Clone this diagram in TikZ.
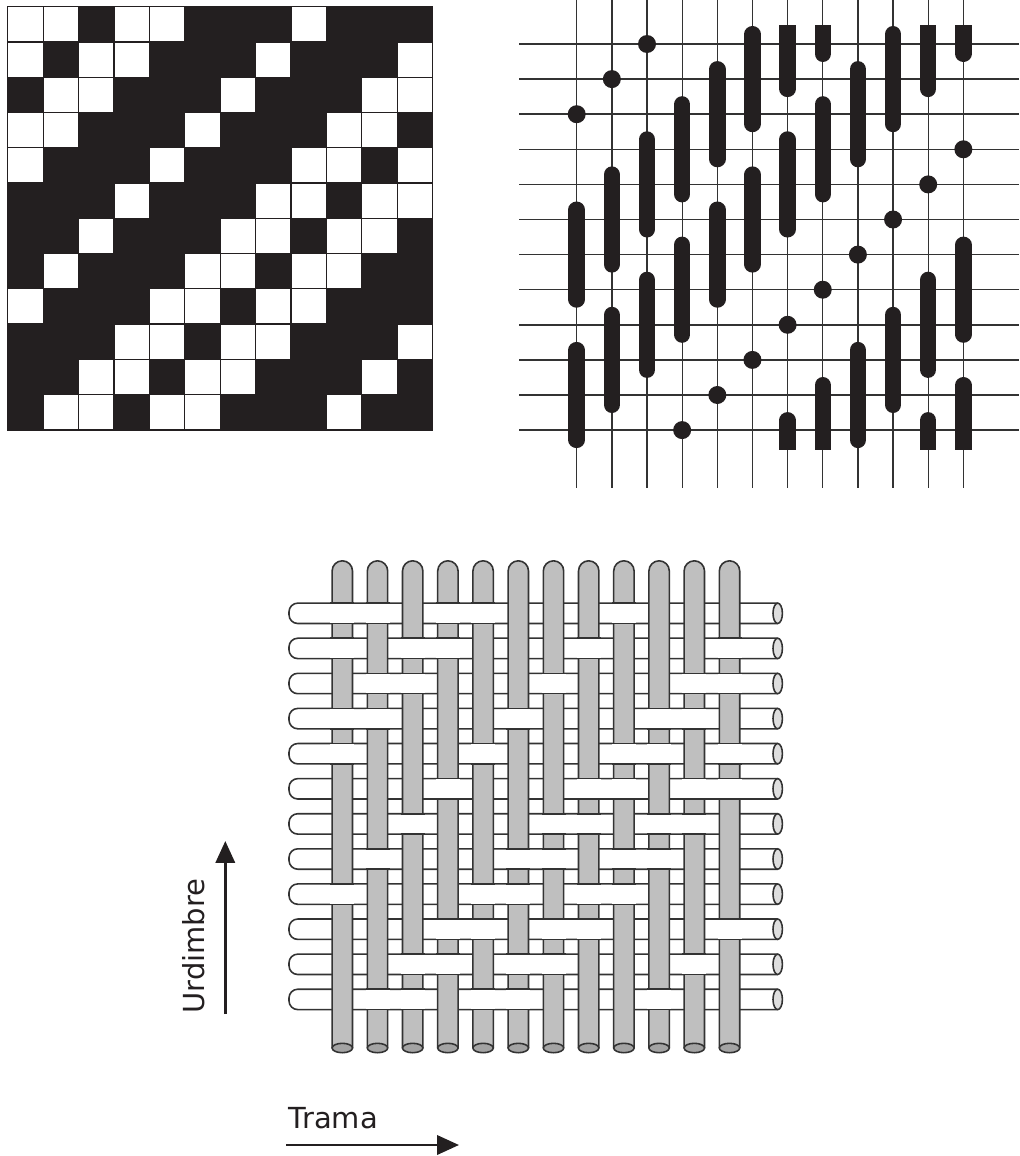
\documentclass[tikz,border=0pt]{standalone}
\usepackage{fontspec}
\setmainfont{DejaVu Sans}
\usetikzlibrary{arrows.meta}
\definecolor{inkblack}{HTML}{231F20}
\definecolor{wiregray}{HTML}{333333}
\definecolor{warpgray}{HTML}{BFBFBF}
\definecolor{warpend}{HTML}{A3A3A3}
\definecolor{weftend}{HTML}{DEDEDE}
\tikzset{
  thread/.style={draw=wiregray,line width=0.9pt},
  warp/.style={thread,fill=warpgray,rounded corners=5.8pt},
  weft/.style={thread,fill=white,rounded corners=5pt},
  bar/.style={draw=inkblack,line width=9.4pt,line cap=round},
  stub/.style={draw=inkblack,line width=9.4pt,line cap=butt},
  dot/.style={fill=inkblack},
  flow/.style={draw=inkblack,line width=1.5pt,-{Triangle[length=12.5pt,width=11pt]}},
  label/.style={inner sep=0pt,text=inkblack,font=\fontsize{16.5}{18}\selectfont}
}

\begin{document}
\begin{tikzpicture}[x=0.02cm,y=-0.02cm,line width=0.75pt]
\useasboundingbox (0,0) rectangle (1019,1156);

% point paper
\fill[inkblack] (7.3,6) rectangle (433.3,431);
\foreach \s in {0,1,3,4,8}
  \foreach \row in {0,...,11}{
    \pgfmathtruncatemacro\col{mod(\s-\row+12,12)}
    \fill[white] (8.3+35.4*\col,7.3+35.27*\row) rectangle (42.5+35.4*\col,41.3+35.27*\row);
  }

% lines of the draft
\foreach \k in {0,...,11}
  \draw[wiregray] (576.7+35.15*\k,0) -- (576.7+35.15*\k,487.7);
\foreach \row in {0,...,11}
  \draw[wiregray,line width=0.9pt] (519,44+35.1*\row) -- (1019,44+35.1*\row);

% single crossings
\foreach \k/\row in {0/2,1/1,2/0,3/11,4/10,5/9,6/8,7/7,8/6,9/5,10/4,11/3}
  \fill[dot] (576.7+35.15*\k,44+35.1*\row) circle (9);
% long floats
\foreach \k/\a/\b in {0/5/7,0/9/11,1/4/6,1/8/10,2/3/5,2/7/9,3/2/4,3/6/8,4/1/3,4/5/7,5/0/2,5/4/6,
    6/3/5,7/2/4,8/1/3,8/9/11,9/0/2,9/8/10,10/7/9,11/6/8}
  \draw[bar] (576.7+35.15*\k,44+35.1*\a-9.75) -- (576.7+35.15*\k,44+35.1*\b+9.75);
% floats cut by the top edge
\foreach \k/\b in {6/1,7/0,10/1,11/0}{
  \draw[stub] (576.7+35.15*\k,25) -- (576.7+35.15*\k,44);
  \draw[bar] (576.7+35.15*\k,44) -- (576.7+35.15*\k,44+35.1*\b+9.75);
}
% floats cut by the bottom edge
\foreach \k/\a in {6/11,7/10,10/11,11/10}{
  \draw[bar] (576.7+35.15*\k,44+35.1*\a-9.75) -- (576.7+35.15*\k,430);
  \draw[stub] (576.7+35.15*\k,430) -- (576.7+35.15*\k,450);
}

% weft threads
\foreach \row in {0,...,11}{
  \draw[weft] (777.7,603.1+35.1*\row) -- (289,603.1+35.1*\row) -- (289,623.5+35.1*\row) -- (777.7,623.5+35.1*\row);
  \draw[thread,fill=weftend] (777.7,613.3+35.1*\row) ellipse [x radius=4.7,y radius=10.2];
}
% warp threads
\foreach \col in {0,...,11}{
  \draw[warp] (332.1+35.2*\col,1048) -- (332.1+35.2*\col,560.8) -- (352.5+35.2*\col,560.8) -- (352.5+35.2*\col,1048);
  \draw[thread,fill=warpend] (342.3+35.2*\col,1048) ellipse [x radius=10.2,y radius=4.7];
}
% weft passes over the warp
\foreach \s in {0,1,3,4,8}
  \foreach \row in {0,...,11}{
    \pgfmathtruncatemacro\col{mod(\s-\row+12,12)}
    \fill[white] (330.3+35.2*\col,603.1+35.1*\row) rectangle (354.3+35.2*\col,623.5+35.1*\row);
    \draw[thread] (330.3+35.2*\col,603.1+35.1*\row) -- (354.3+35.2*\col,603.1+35.1*\row);
    \draw[thread] (330.3+35.2*\col,623.5+35.1*\row) -- (354.3+35.2*\col,623.5+35.1*\row);
  }

% directions
\coordinate (urdimbre tail) at (225.3,1014);
\coordinate (urdimbre tip) at (225.3,841);
\coordinate (trama tail) at (286,1145);
\coordinate (trama tip) at (459,1145);
\draw[flow] (urdimbre tail) -- (urdimbre tip);
\draw[flow] (trama tail) -- (trama tip);
\node[label,rotate=90,anchor=base west] (urdimbre) at (204,1014) {Urdimbre};
\node[label,anchor=base west] (trama) at (288,1128) {Trama};
\end{tikzpicture}
\end{document}
